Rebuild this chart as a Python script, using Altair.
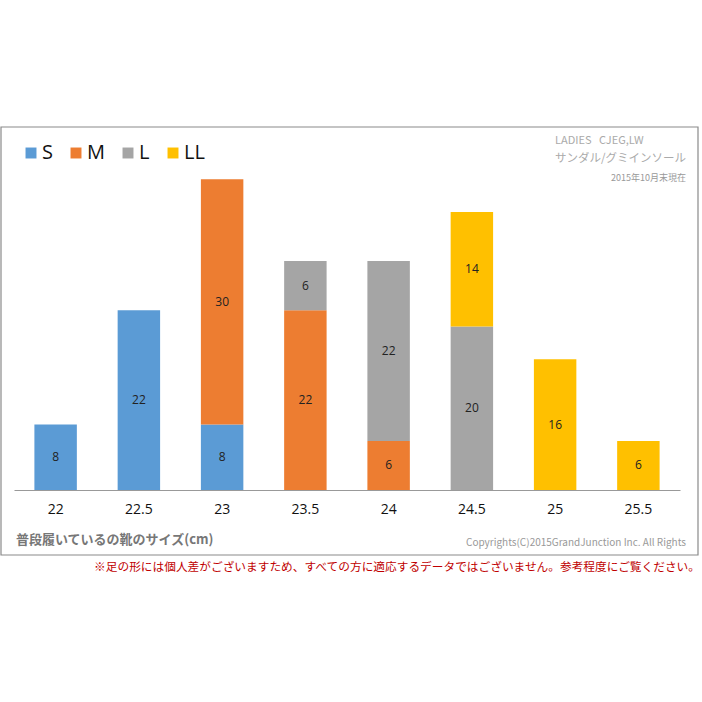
import altair as alt
import pandas as pd

sizes = ["22", "22.5", "23", "23.5", "24", "24.5", "25", "25.5"]
series = ["S", "M", "L", "LL"]
colors = ["#5B9BD5", "#ED7D31", "#A5A5A5", "#FFC000"]
S_vals = [8, 22, 8, 0, 0, 0, 0, 0]
M_vals = [0, 0, 30, 22, 6, 0, 0, 0]
L_vals = [0, 0, 0, 6, 22, 20, 0, 0]
LL_vals = [0, 0, 0, 0, 0, 14, 16, 6]

rows = []
for name, vals in zip(series, [S_vals, M_vals, L_vals, LL_vals]):
    for s, v in zip(sizes, vals):
        if v > 0:
            rows.append({"size": s, "series": name, "value": v, "order": series.index(name)})
df = pd.DataFrame(rows)

W, H = 666, 327
OX, OY = 14, 163  # plot origin in page coords

xenc = alt.X("size:N", sort=sizes, scale=alt.Scale(paddingInner=0.49, paddingOuter=0.245),
             axis=alt.Axis(title=None, labelAngle=0, labelFontSize=14, labelColor="#111",
                           labelFont="Open Sans", ticks=False, domainColor="#999",
                           domainWidth=1, labelPadding=12, grid=False))
yscale = alt.Scale(domain=[0, 40])

bars = alt.Chart(df).mark_bar().encode(
    x=xenc,
    y=alt.Y("sum(value):Q", stack="zero", scale=yscale, axis=None),
    color=alt.Color("series:N", sort=series,
                    scale=alt.Scale(domain=series, range=colors),
                    legend=alt.Legend(title=None, orient="none", legendX=25 - OX - 4, legendY=143 - OY,
                                      direction="horizontal", symbolType="square",
                                      symbolSize=120, symbolStrokeWidth=0,
                                      labelFontSize=20, labelFont="Open Sans", labelColor="#111",
                                      columnPadding=13, labelOffset=1)),
    order=alt.Order("order:Q"),
)

labels = alt.Chart(df).mark_text(fontSize=12, color="#222", font="Open Sans").encode(
    x=alt.X("size:N", sort=sizes),
    y=alt.Y("mid:Q", scale=yscale),
    text=alt.Text("value:Q"),
).transform_stack(
    stack="value", groupby=["size"], sort=[alt.SortField("order")], as_=["y0", "y1"]
).transform_calculate(mid="(datum.y0 + datum.y1) / 2")

NB = "\u00a0"
top = [
    {"t": "LADIES" + NB * 3 + "CJEG,LW", "x": 555, "y": 141, "s": 11, "c": "#aaaaaa", "a": "left", "w": "normal"},
    {"t": "サンダル/グミインソール", "x": 555, "y": 159, "s": 11.5, "c": "#aaaaaa", "a": "left", "w": "normal"},
    {"t": "2015年10月末現在", "x": 686, "y": 178, "s": 9, "c": "#999999", "a": "right", "w": "normal"},
]

def text_layer(rec):
    return alt.Chart(pd.DataFrame([rec])).mark_text(
        align=rec["a"], baseline="middle", fontSize=rec["s"], color=rec["c"],
        font="Noto Sans CJK JP", fontWeight=rec["w"]
    ).encode(x=alt.value(rec["x"] - OX), y=alt.value(rec["y"] - OY), text="t:N")

texts = [text_layer(r) for r in top]

bottom = [
    {"t": "普段履いているの靴のサイズ(cm)", "x": 16, "y": 540, "s": 13, "c": "#777777", "a": "left", "w": "bold"},
    {"t": "Copyrights(C)2015GrandJunction Inc. All Rights", "x": 686, "y": 543, "s": 10, "c": "#999999", "a": "right", "w": "normal"},
    {"t": "※足の形には個人差がございますため、すべての方に適応するデータではございません。参考程度にご覧ください。", "x": 700, "y": 567, "s": 11.7, "c": "#C00000", "a": "right", "w": "normal"},
]
texts += [text_layer(r) for r in bottom]

border = alt.Chart(pd.DataFrame([{"k": 1}])).mark_rect(
    fill=None, stroke="#8a8a8a", strokeWidth=1.2
).encode(x=alt.value(1 - OX), x2=alt.value(698 - OX), y=alt.value(127 - OY), y2=alt.value(555 - OY))

chart = alt.layer(border, bars, labels, *texts).properties(
    width=W, height=H,
    background="white",
    autosize=alt.AutoSizeParams(type="none"),
    padding={"left": OX, "top": OY, "right": 702 - OX - W, "bottom": 702 - OY - H},
).configure_view(strokeWidth=0)

chart.save("out.html", embed_options={"renderer": "svg", "actions": False})
